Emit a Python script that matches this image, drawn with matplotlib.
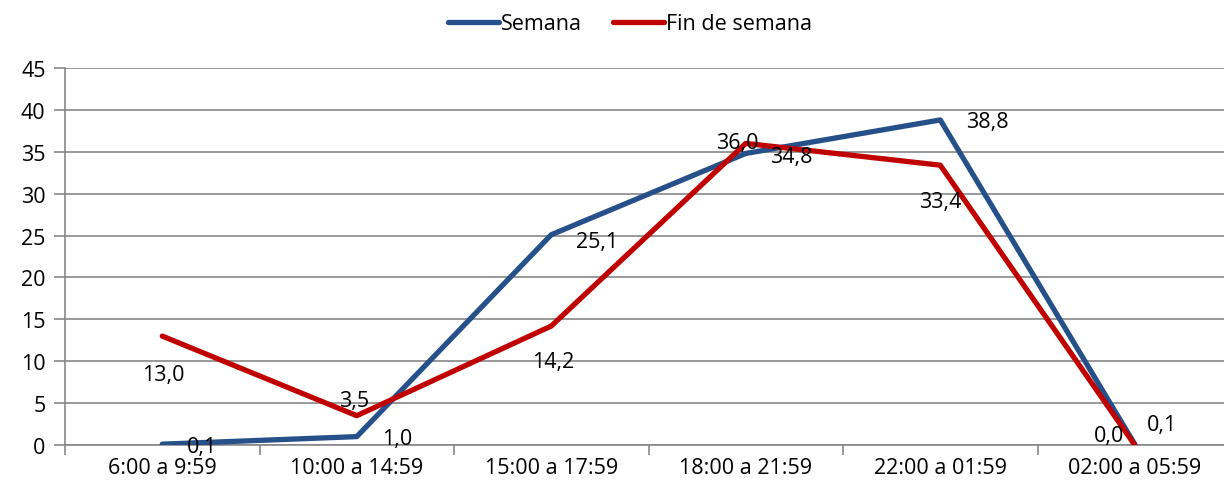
import matplotlib.pyplot as plt
import numpy as np

plt.rcParams['font.family'] = ['Open Sans', 'DejaVu Sans']

categories = ['6:00 a 9:59', '10:00 a 14:59', '15:00 a 17:59',
              '18:00 a 21:59', '22:00 a 01:59', '02:00 a 05:59']
semana = [0.1, 1.0, 25.1, 34.8, 38.8, 0.1]
fin_semana = [13.0, 3.5, 14.2, 36.0, 33.4, 0.0]
semana_labels = ['0,1', '1,0', '25,1', '34,8', '38,8', '0,1']
fin_labels = ['13,0', '3,5', '14,2', '36,0', '33,4', '0,0']

blue = '#25508A'
red = '#C00000'
grid_c = '#878787'
fs = 15.5

fig = plt.figure(figsize=(12.24, 4.89), dpi=100)
# plot area extends a little past the right edge, as in the original
ax = fig.add_axes([65 / 1224, 1 - 446 / 489, 1167 / 1224, 377 / 489])

x = np.arange(len(categories))
ax.plot(x, semana, color=blue, lw=3.8, label='Semana', solid_capstyle='round', zorder=3)
ax.plot(x, fin_semana, color=red, lw=3.8, label='Fin de semana', solid_capstyle='round', zorder=3)

ax.set_xlim(-0.5, len(categories) - 0.5)
ax.set_ylim(0, 45)
ax.set_yticks(range(0, 46, 5))
ax.set_xticks(x)
ax.set_xticklabels(categories)
ax.set_xticks(np.arange(-0.5, len(categories), 1), minor=True)
ax.tick_params(axis='x', which='major', length=0, pad=9, labelsize=fs)
ax.tick_params(axis='x', which='minor', length=7, color=grid_c, width=1.2)
ax.tick_params(axis='y', length=8, color=grid_c, width=1.2, pad=6, labelsize=fs)
ax.grid(axis='y', color=grid_c, lw=1.2, zorder=0)
ax.set_axisbelow(True)
for side in ['top', 'right']:
    ax.spines[side].set_visible(False)
ax.spines['left'].set_color(grid_c)
ax.spines['bottom'].set_color(grid_c)
ax.spines['left'].set_linewidth(1.2)
ax.spines['bottom'].set_linewidth(1.2)

sem_off = [(40, -2), (40, -2), (46, -7), (46, -3), (47, -2), (27, 20)]
fin_off = [(1, -38), (-3, 15), (2, -35), (-8, 1), (0, -36), (-26, 9)]
for i in range(len(categories)):
    ax.annotate(semana_labels[i], (x[i], semana[i]), xytext=sem_off[i],
                textcoords='offset pixels', ha='center', va='center', fontsize=fs, zorder=4)
    ax.annotate(fin_labels[i], (x[i], fin_semana[i]), xytext=fin_off[i],
                textcoords='offset pixels', ha='center', va='center', fontsize=fs, zorder=4)

fig.legend(loc='center', bbox_to_anchor=(630 / 1224, 1 - 25 / 489), ncol=2, frameon=False,
           fontsize=fs, handlelength=2.4, handletextpad=0.1, columnspacing=1.4)

fig.savefig('out.png', dpi=100)
